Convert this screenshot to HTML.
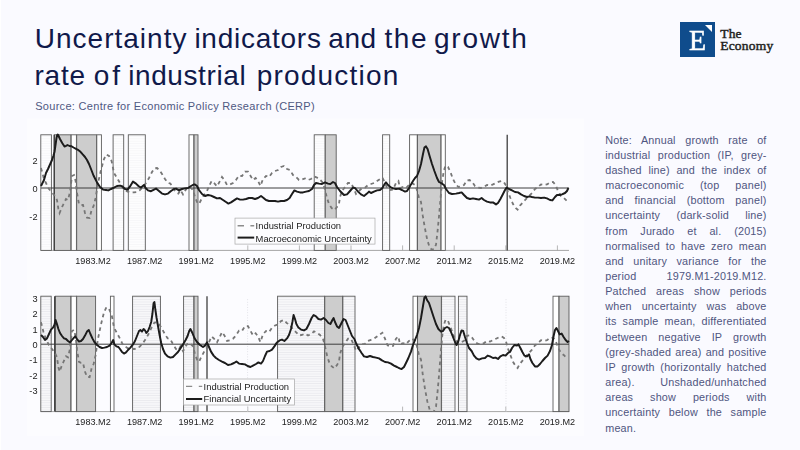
<!DOCTYPE html>
<html><head><meta charset="utf-8"><title>Uncertainty indicators and the growth rate of industrial production</title>
<style>
html,body{margin:0;padding:0;}
body{width:800px;height:450px;overflow:hidden;background:#fafaff;font-family:"Liberation Sans",sans-serif;position:relative;}
.title{position:absolute;left:0;top:0;font-size:28px;line-height:36px;color:#10194a;white-space:nowrap;}
.title .tw{position:absolute;display:block;}
.source{position:absolute;left:35.2px;top:100px;font-size:11px;line-height:13px;color:#4f5882;white-space:nowrap;letter-spacing:0.3px;}
.chart{position:absolute;left:0;top:0;}
.chart text{font-family:"Liberation Sans",sans-serif;fill:#222;}
.chart .lg{font-size:9.4px;}
.chart .yl{font-size:9.2px;text-anchor:end;}
.chart .xl{font-size:9.7px;text-anchor:middle;}
.note{position:absolute;left:605.2px;top:132.6px;width:161.4px;font-size:10.8px;line-height:15.16px;color:#4f5580;letter-spacing:0.2px;}
.note .nl{text-align:justify;text-align-last:justify;white-space:nowrap;height:15.16px;}
.note .nl.last{text-align:left;text-align-last:left;}
.logo{position:absolute;left:680px;top:22px;width:35px;height:35px;background:#0f4c8c;}
.logo .e{position:absolute;left:0;top:0;width:33px;text-align:center;font-family:"Liberation Serif",serif;font-weight:normal;-webkit-text-stroke:0.55px #fff;font-size:28.5px;line-height:38px;color:#fff;transform:scaleX(0.98);transform-origin:16.5px 0;left:0.6px;}
.logo .tri{position:absolute;right:3px;top:3px;width:0;height:0;border-top:7px solid #fff;border-left:7px solid transparent;}
.brand{position:absolute;left:720.2px;top:28.2px;font-family:"Liberation Serif",serif;font-weight:normal;-webkit-text-stroke:0.45px #231f20;font-size:13.5px;line-height:11.5px;color:#231f20;letter-spacing:0.22px;}
</style></head><body>
<div class="title"><span class="tw" style="left:34.7px;top:21.0px;letter-spacing:1.02px">Uncertainty</span><span class="tw" style="left:194.4px;top:21.0px;letter-spacing:0.74px">indicators</span><span class="tw" style="left:328.3px;top:21.0px;letter-spacing:0.59px">and</span><span class="tw" style="left:384.4px;top:21.0px;letter-spacing:1.63px">the</span><span class="tw" style="left:434.0px;top:21.0px;letter-spacing:1.75px">growth</span><span class="tw" style="left:34.5px;top:58.4px;letter-spacing:0.75px">rate</span><span class="tw" style="left:93.7px;top:58.4px;letter-spacing:2.94px">of</span><span class="tw" style="left:128.2px;top:58.4px;letter-spacing:0.60px">industrial</span><span class="tw" style="left:256.8px;top:58.4px;letter-spacing:1.19px">production</span></div>
<div class="source">Source: Centre for Economic Policy Research (CERP)</div>
<svg class="chart" width="800" height="450" viewBox="0 0 800 450">
<defs><pattern id="hatchT" width="4" height="2.4" patternUnits="userSpaceOnUse"><rect width="4" height="2.4" fill="#fdfdfe"/><rect y="1.7" width="4" height="0.7" fill="#f5f5f8"/></pattern><pattern id="hatchB" width="4" height="2.4" patternUnits="userSpaceOnUse"><rect width="4" height="2.4" fill="#f7f7f9"/><rect y="1.7" width="4" height="0.7" fill="#e8e8ec"/></pattern><clipPath id="ct"><rect x="40" y="133" width="531" height="117.5"/></clipPath><clipPath id="cb"><rect x="40" y="294" width="531" height="117.6"/></clipPath><filter id="bl" x="-5%" y="-5%" width="110%" height="110%"><feGaussianBlur stdDeviation="0.45"/></filter></defs>
<rect x="27" y="118.5" width="557" height="317.8" fill="#fcfcff"/>
<g filter="url(#bl)">
<line x1="41.0" x2="569.0" y1="250.4" y2="250.4" stroke="#8e8e8e" stroke-width="0.8"/><line x1="93.0" x2="93.0" y1="245.4" y2="250.4" stroke="#9a9a9a" stroke-width="0.7"/><line x1="144.6" x2="144.6" y1="245.4" y2="250.4" stroke="#9a9a9a" stroke-width="0.7"/><line x1="196.2" x2="196.2" y1="245.4" y2="250.4" stroke="#9a9a9a" stroke-width="0.7"/><line x1="247.8" x2="247.8" y1="245.4" y2="250.4" stroke="#9a9a9a" stroke-width="0.7"/><line x1="299.4" x2="299.4" y1="245.4" y2="250.4" stroke="#9a9a9a" stroke-width="0.7"/><line x1="351.0" x2="351.0" y1="245.4" y2="250.4" stroke="#9a9a9a" stroke-width="0.7"/><line x1="402.6" x2="402.6" y1="245.4" y2="250.4" stroke="#9a9a9a" stroke-width="0.7"/><line x1="454.2" x2="454.2" y1="245.4" y2="250.4" stroke="#9a9a9a" stroke-width="0.7"/><line x1="505.8" x2="505.8" y1="245.4" y2="250.4" stroke="#9a9a9a" stroke-width="0.7"/><line x1="557.4" x2="557.4" y1="245.4" y2="250.4" stroke="#9a9a9a" stroke-width="0.7"/>
<rect x="40.8" y="134.8" width="10.6" height="115.6" fill="url(#hatchT)" stroke="#5c5c5c" stroke-width="0.9"/>
<rect x="54.3" y="134.8" width="16.6" height="115.6" fill="#cdcdcd" stroke="#5c5c5c" stroke-width="0.9"/>
<rect x="71.2" y="134.8" width="5.2" height="115.6" fill="#ffffff" stroke="#5c5c5c" stroke-width="0.9"/>
<rect x="76.7" y="134.8" width="19.8" height="115.6" fill="#cdcdcd" stroke="#5c5c5c" stroke-width="0.9"/>
<rect x="96.8" y="134.8" width="4.6" height="115.6" fill="#ffffff" stroke="#5c5c5c" stroke-width="0.9"/>
<rect x="113.1" y="134.8" width="10.6" height="115.6" fill="url(#hatchT)" stroke="#5c5c5c" stroke-width="0.9"/>
<rect x="128.3" y="134.8" width="17.0" height="115.6" fill="url(#hatchT)" stroke="#5c5c5c" stroke-width="0.9"/>
<rect x="189.0" y="134.8" width="4.8" height="115.6" fill="#ffffff" stroke="#5c5c5c" stroke-width="0.9"/>
<rect x="194.1" y="134.8" width="3.9" height="115.6" fill="#cdcdcd" stroke="#5c5c5c" stroke-width="0.9"/>
<rect x="314.2" y="134.8" width="10.9" height="115.6" fill="url(#hatchT)" stroke="#5c5c5c" stroke-width="0.9"/>
<rect x="325.3" y="134.8" width="10.9" height="115.6" fill="#cdcdcd" stroke="#5c5c5c" stroke-width="0.9"/>
<rect x="382.6" y="134.8" width="7.1" height="115.6" fill="url(#hatchT)" stroke="#5c5c5c" stroke-width="0.9"/>
<rect x="409.6" y="134.8" width="7.6" height="115.6" fill="#ffffff" stroke="#5c5c5c" stroke-width="0.9"/>
<rect x="417.5" y="134.8" width="23.4" height="115.6" fill="#cdcdcd" stroke="#5c5c5c" stroke-width="0.9"/>
<rect x="441.1" y="134.8" width="4.2" height="115.6" fill="#ffffff" stroke="#5c5c5c" stroke-width="0.9"/>

<line x1="41.0" x2="569.0" y1="188.0" y2="188.0" stroke="#3c3c3c" stroke-width="1"/>
<line x1="54.2" x2="54.2" y1="134.8" y2="250.4" stroke="#383838" stroke-width="1.25"/>
<line x1="507.2" x2="507.2" y1="134.8" y2="250.4" stroke="#383838" stroke-width="1.25"/>
<path d="M41.0 168.0 L42.4 173.0 L44.0 179.0 L46.0 183.0 L49.0 189.0 L52.0 192.4 L55.0 196.0 L57.0 200.0 L58.4 209.0 L59.6 213.0 L62.0 207.0 L64.0 203.0 L66.0 199.0 L68.0 200.0 L70.0 192.0 L72.0 176.0 L74.0 175.0 L75.6 181.0 L77.0 193.0 L79.0 204.0 L81.0 205.0 L83.0 205.0 L85.0 213.0 L87.0 217.6 L89.6 218.0 L91.6 210.0 L93.6 206.0 L95.6 198.0 L98.0 183.0 L101.0 170.0 L104.0 159.0 L106.4 154.4 L109.0 156.0 L111.6 161.0 L114.0 173.0 L117.0 178.0 L120.0 183.0 L122.4 187.6 L125.0 190.0 L127.6 191.6 L131.0 192.4 L134.0 192.4 L137.0 192.0 L140.0 190.0 L143.0 187.0 L146.0 183.0 L149.0 178.0 L152.0 172.0 L154.4 168.4 L157.0 168.0 L159.6 170.4 L162.0 174.0 L165.0 179.0 L167.6 182.6 L170.4 183.6 L173.0 188.0 L176.0 192.4 L178.4 193.6 L180.4 190.0 L183.0 194.4 L185.0 191.0 L187.0 188.0 L190.0 187.0 L193.0 190.0 L195.0 197.0 L197.0 202.0 L199.0 204.0 L201.0 200.0 L204.0 195.0 L207.0 191.0 L209.6 185.0 L211.6 181.0 L214.0 183.0 L217.0 186.4 L220.0 181.0 L222.0 177.0 L224.4 180.0 L227.0 185.0 L230.0 184.4 L233.0 183.0 L236.0 180.0 L239.0 175.6 L242.0 176.0 L245.0 171.6 L248.0 171.6 L250.0 175.0 L253.0 180.0 L255.6 178.0 L258.0 181.0 L260.4 186.0 L263.0 179.0 L266.0 176.0 L269.0 177.0 L272.0 173.0 L275.0 171.0 L278.0 170.0 L281.0 167.0 L284.0 166.0 L287.0 169.0 L290.0 170.0 L293.0 175.0 L296.0 177.0 L299.0 180.0 L302.0 179.6 L305.0 178.4 L308.0 180.0 L311.0 179.0 L314.0 176.4 L317.0 177.6 L320.0 179.6 L323.0 183.0 L325.0 190.0 L327.0 198.0 L329.0 204.0 L331.6 208.0 L334.4 210.0 L337.0 207.0 L339.0 203.6 L340.0 197.0 L342.0 191.0 L345.0 187.0 L348.0 183.0 L351.0 183.0 L354.0 189.0 L356.0 194.0 L359.0 191.0 L362.0 188.0 L365.0 187.6 L368.0 185.0 L371.0 184.0 L374.0 183.0 L377.0 181.0 L380.0 179.0 L382.4 177.6 L385.0 183.0 L387.6 189.0 L390.0 190.0 L393.0 189.6 L396.0 183.0 L398.4 181.0 L400.0 188.0 L403.0 187.0 L406.0 188.0 L409.0 185.0 L412.0 183.0 L415.0 185.0 L417.0 190.0 L419.0 198.0 L421.0 202.0 L422.7 215.2 L424.8 227.6 L427.3 240.0 L429.8 247.9 L432.0 249.6 L433.8 249.2 L436.0 244.8 L437.6 230.8 L439.1 215.2 L440.7 196.5 L442.3 180.0 L444.0 170.0 L445.6 165.6 L448.0 167.0 L450.4 172.0 L453.0 179.0 L455.6 184.0 L458.4 187.0 L461.0 186.4 L464.0 185.0 L467.0 180.4 L469.6 180.0 L472.4 182.4 L475.0 186.0 L478.0 187.6 L481.0 188.0 L484.0 187.0 L487.0 185.0 L490.0 185.6 L493.0 184.4 L496.0 183.0 L499.0 181.6 L501.6 181.0 L504.0 182.4 L506.0 185.6 L508.0 192.0 L510.4 198.0 L513.0 204.0 L515.6 208.0 L517.6 209.6 L520.0 205.6 L523.0 202.4 L526.0 199.0 L529.0 196.0 L532.0 193.0 L535.0 189.0 L538.0 187.0 L541.0 184.4 L544.0 185.0 L547.0 184.4 L550.0 182.4 L553.0 182.0 L555.6 185.0 L558.0 191.0 L561.0 196.0 L564.0 198.0 L567.0 201.0" fill="none" stroke="#767676" stroke-width="1.8" stroke-dasharray="3.6 3.4" clip-path="url(#ct)"/>
<path d="M41.0 186.0 L42.5 183.0 L44.0 180.0 L46.0 173.0 L48.0 169.0 L50.0 164.5 L52.0 160.0 L53.5 155.5 L54.5 152.0 L55.5 145.0 L56.5 138.0 L57.2 135.0 L57.8 134.5 L58.6 136.0 L60.0 139.0 L62.2 143.0 L64.5 146.5 L66.0 145.8 L67.5 145.0 L69.5 146.0 L71.5 146.2 L73.5 147.5 L76.0 148.8 L78.5 150.2 L80.5 151.8 L82.5 154.2 L85.0 157.0 L87.0 160.0 L89.0 164.0 L91.0 169.0 L93.5 175.5 L97.0 182.4 L100.0 187.0 L103.0 189.6 L106.0 190.0 L108.4 190.4 L111.0 189.0 L114.0 187.6 L117.0 186.0 L120.0 185.6 L122.4 186.4 L125.0 189.0 L127.6 189.6 L130.0 186.4 L133.0 181.6 L136.0 183.6 L138.4 186.0 L141.0 187.6 L144.0 185.0 L145.6 188.0 L148.0 190.4 L151.0 191.2 L154.0 189.6 L156.0 188.6 L159.0 191.0 L162.0 193.6 L165.0 194.4 L168.0 193.6 L171.0 191.0 L174.0 189.0 L176.0 188.6 L179.0 190.4 L182.0 189.0 L185.0 188.4 L188.0 188.0 L191.0 186.0 L194.0 184.4 L195.0 184.4 L197.0 186.0 L199.0 190.0 L202.0 194.0 L205.0 196.0 L208.0 195.0 L211.0 195.6 L214.0 197.0 L217.0 198.4 L220.0 198.0 L223.0 200.0 L226.0 202.0 L228.4 203.6 L231.0 202.4 L234.0 200.4 L237.0 198.4 L240.0 199.6 L243.0 199.6 L246.0 199.0 L249.0 198.0 L252.0 198.0 L255.0 199.0 L258.0 198.0 L261.0 196.0 L263.6 198.0 L266.0 200.0 L269.0 201.0 L272.0 201.0 L275.0 201.0 L278.0 201.6 L281.0 201.0 L284.0 201.0 L287.0 200.0 L289.6 198.0 L292.0 194.0 L294.4 190.4 L297.0 191.6 L300.0 192.4 L303.0 192.4 L306.0 191.6 L309.0 191.0 L312.0 189.0 L314.0 185.0 L316.0 183.0 L319.0 183.6 L322.0 184.0 L325.0 182.4 L328.0 183.6 L330.4 184.0 L333.0 182.0 L335.0 183.0 L337.0 187.0 L340.0 191.0 L343.0 194.0 L344.0 195.0 L347.0 194.4 L350.0 191.0 L353.0 187.6 L355.0 188.0 L358.0 191.6 L361.0 194.4 L364.0 196.0 L367.0 193.6 L369.0 191.6 L371.0 193.0 L374.0 191.6 L377.0 190.4 L380.0 190.0 L382.4 188.0 L384.4 184.4 L386.0 182.4 L388.0 185.0 L390.4 187.0 L393.0 188.4 L396.0 189.0 L399.0 188.6 L402.0 190.0 L405.0 191.6 L407.0 191.0 L409.0 188.0 L411.0 184.4 L413.0 181.0 L415.0 178.0 L417.0 176.0 L419.0 171.0 L421.0 164.0 L423.0 154.0 L424.4 147.6 L426.0 146.4 L427.6 149.0 L429.6 156.0 L432.0 164.0 L434.4 171.0 L437.0 178.0 L439.0 182.0 L441.0 183.0 L443.0 184.4 L444.0 185.0 L446.0 189.0 L449.0 193.0 L452.0 194.0 L456.0 193.6 L459.0 193.0 L461.6 192.4 L464.0 195.0 L467.0 198.0 L470.0 199.0 L473.0 198.4 L476.0 199.0 L479.0 199.6 L481.6 198.0 L484.0 200.0 L487.0 201.6 L490.0 202.4 L493.0 202.4 L496.0 204.4 L498.0 203.0 L500.4 199.0 L503.0 194.0 L505.0 190.0 L506.6 187.6 L509.0 189.0 L512.0 190.4 L515.0 192.0 L518.0 192.4 L521.0 194.4 L524.0 196.0 L527.0 197.0 L529.6 196.4 L532.0 197.0 L535.0 197.6 L538.0 197.6 L541.0 198.0 L544.0 197.6 L547.0 198.4 L550.0 200.0 L552.4 200.4 L555.0 197.0 L557.0 195.0 L559.6 195.0 L562.0 194.4 L565.0 193.0 L567.0 191.0 L568.4 188.0" fill="none" stroke="#1a1a1a" stroke-width="1.95" stroke-linejoin="round"/>
<rect x="235" y="218.1" width="140" height="26" fill="#fcfcfe" stroke="#a8a8a8" stroke-width="0.7"/>
<line x1="237.6" x2="254.2" y1="225.7" y2="225.7" stroke="#8c8c8c" stroke-width="1.4" stroke-dasharray="6.4 6.4"/>
<line x1="237.6" x2="254.2" y1="237.6" y2="237.6" stroke="#1a1a1a" stroke-width="2"/>
<text x="255.6" y="229" class="lg">Industrial Production</text>
<text x="255.6" y="241.5" class="lg">Macroeconomic Uncertainty</text>
<text x="37.5" y="163.9" class="yl">2</text>
<text x="37.5" y="191.9" class="yl">0</text>
<text x="37.5" y="219.9" class="yl">-2</text>
<text x="93.0" y="263.9" class="xl" textLength="35.4" lengthAdjust="spacingAndGlyphs">1983.M2</text>
<text x="144.6" y="263.9" class="xl" textLength="35.4" lengthAdjust="spacingAndGlyphs">1987.M2</text>
<text x="196.2" y="263.9" class="xl" textLength="35.4" lengthAdjust="spacingAndGlyphs">1991.M2</text>
<text x="247.8" y="263.9" class="xl" textLength="35.4" lengthAdjust="spacingAndGlyphs">1995.M2</text>
<text x="299.4" y="263.9" class="xl" textLength="35.4" lengthAdjust="spacingAndGlyphs">1999.M2</text>
<text x="351.0" y="263.9" class="xl" textLength="35.4" lengthAdjust="spacingAndGlyphs">2003.M2</text>
<text x="402.6" y="263.9" class="xl" textLength="35.4" lengthAdjust="spacingAndGlyphs">2007.M2</text>
<text x="454.2" y="263.9" class="xl" textLength="35.4" lengthAdjust="spacingAndGlyphs">2011.M2</text>
<text x="505.8" y="263.9" class="xl" textLength="35.4" lengthAdjust="spacingAndGlyphs">2015.M2</text>
<text x="557.4" y="263.9" class="xl" textLength="35.4" lengthAdjust="spacingAndGlyphs">2019.M2</text>
<line x1="41.0" x2="569.0" y1="411.6" y2="411.6" stroke="#8e8e8e" stroke-width="0.8"/><line x1="93.0" x2="93.0" y1="406.6" y2="411.6" stroke="#9a9a9a" stroke-width="0.7"/><line x1="144.6" x2="144.6" y1="406.6" y2="411.6" stroke="#9a9a9a" stroke-width="0.7"/><line x1="196.2" x2="196.2" y1="406.6" y2="411.6" stroke="#9a9a9a" stroke-width="0.7"/><line x1="247.8" x2="247.8" y1="406.6" y2="411.6" stroke="#9a9a9a" stroke-width="0.7"/><line x1="299.4" x2="299.4" y1="406.6" y2="411.6" stroke="#9a9a9a" stroke-width="0.7"/><line x1="351.0" x2="351.0" y1="406.6" y2="411.6" stroke="#9a9a9a" stroke-width="0.7"/><line x1="402.6" x2="402.6" y1="406.6" y2="411.6" stroke="#9a9a9a" stroke-width="0.7"/><line x1="454.2" x2="454.2" y1="406.6" y2="411.6" stroke="#9a9a9a" stroke-width="0.7"/><line x1="505.8" x2="505.8" y1="406.6" y2="411.6" stroke="#9a9a9a" stroke-width="0.7"/><line x1="557.4" x2="557.4" y1="406.6" y2="411.6" stroke="#9a9a9a" stroke-width="0.7"/>
<line x1="247.6" x2="247.6" y1="299.2" y2="411.6" stroke="#dcdce2" stroke-width="0.8" stroke-dasharray="1 1.6"/>
<line x1="506.0" x2="506.0" y1="299.2" y2="411.6" stroke="#dcdce2" stroke-width="0.8" stroke-dasharray="1 1.6"/>
<rect x="40.8" y="296.2" width="10.4" height="115.4" fill="url(#hatchB)" stroke="#5c5c5c" stroke-width="0.9"/>
<rect x="55.4" y="296.2" width="15.4" height="115.4" fill="#cdcdcd" stroke="#5c5c5c" stroke-width="0.9"/>
<rect x="71.1" y="296.2" width="5.3" height="115.4" fill="#ffffff" stroke="#5c5c5c" stroke-width="0.9"/>
<rect x="76.7" y="296.2" width="18.9" height="115.4" fill="#cdcdcd" stroke="#5c5c5c" stroke-width="0.9"/>
<rect x="110.4" y="296.2" width="3.6" height="115.4" fill="#ffffff" stroke="#5c5c5c" stroke-width="0.9"/>
<rect x="132.6" y="296.2" width="27.8" height="115.4" fill="url(#hatchB)" stroke="#5c5c5c" stroke-width="0.9"/>
<rect x="183.6" y="296.2" width="10.2" height="115.4" fill="url(#hatchB)" stroke="#5c5c5c" stroke-width="0.9"/>
<rect x="194.1" y="296.2" width="3.9" height="115.4" fill="#cdcdcd" stroke="#5c5c5c" stroke-width="0.9"/>
<rect x="277.6" y="296.2" width="46.9" height="115.4" fill="url(#hatchB)" stroke="#5c5c5c" stroke-width="0.9"/>
<rect x="324.8" y="296.2" width="17.8" height="115.4" fill="#cdcdcd" stroke="#5c5c5c" stroke-width="0.9"/>
<rect x="342.9" y="296.2" width="12.1" height="115.4" fill="url(#hatchB)" stroke="#5c5c5c" stroke-width="0.9"/>
<rect x="413.0" y="296.2" width="4.4" height="115.4" fill="#ffffff" stroke="#5c5c5c" stroke-width="0.9"/>
<rect x="417.6" y="296.2" width="23.7" height="115.4" fill="#cdcdcd" stroke="#5c5c5c" stroke-width="0.9"/>
<rect x="441.6" y="296.2" width="13.4" height="115.4" fill="url(#hatchB)" stroke="#5c5c5c" stroke-width="0.9"/>
<rect x="458.4" y="296.2" width="8.6" height="115.4" fill="url(#hatchB)" stroke="#5c5c5c" stroke-width="0.9"/>
<rect x="553.0" y="296.2" width="5.9" height="115.4" fill="#ffffff" stroke="#5c5c5c" stroke-width="0.9"/>
<rect x="559.1" y="296.2" width="9.9" height="115.4" fill="#cdcdcd" stroke="#5c5c5c" stroke-width="0.9"/>

<line x1="41.0" x2="569.0" y1="344.2" y2="344.2" stroke="#3c3c3c" stroke-width="1"/>
<line x1="54.7" x2="54.7" y1="296.2" y2="411.6" stroke="#383838" stroke-width="1.25"/>
<line x1="207.0" x2="207.0" y1="296.2" y2="411.6" stroke="#383838" stroke-width="1.25"/>
<path d="M41.0 322.2 L42.4 327.7 L44.0 334.3 L46.0 338.7 L49.0 345.3 L52.0 349.0 L55.0 353.0 L57.0 357.4 L58.4 367.3 L59.6 371.7 L62.0 365.1 L64.0 360.7 L66.0 356.3 L68.0 357.4 L70.0 348.6 L72.0 331.0 L74.0 329.9 L75.6 336.5 L77.0 349.7 L79.0 361.8 L81.0 362.9 L83.0 362.9 L85.0 371.7 L87.0 376.8 L89.6 377.2 L91.6 368.4 L93.6 364.0 L95.6 355.2 L98.0 338.7 L101.0 324.4 L104.0 312.3 L106.4 307.2 L109.0 309.0 L111.6 314.5 L114.0 327.7 L117.0 333.2 L120.0 338.7 L122.4 343.8 L125.0 346.4 L127.6 348.2 L131.0 349.0 L134.0 349.0 L137.0 348.6 L140.0 346.4 L143.0 343.1 L146.0 338.7 L149.0 333.2 L152.0 326.6 L154.4 322.6 L157.0 322.2 L159.6 324.8 L162.0 328.8 L165.0 334.3 L167.6 338.3 L170.4 339.4 L173.0 344.2 L176.0 349.0 L178.4 350.4 L180.4 346.4 L183.0 351.2 L185.0 347.5 L187.0 344.2 L190.0 343.1 L193.0 346.4 L195.0 354.1 L197.0 359.6 L199.0 361.8 L201.0 357.4 L204.0 351.9 L207.0 347.5 L209.6 340.9 L211.6 336.5 L214.0 338.7 L217.0 342.4 L220.0 336.5 L222.0 332.1 L224.4 335.4 L227.0 340.9 L230.0 340.2 L233.0 338.7 L236.0 335.4 L239.0 330.6 L242.0 331.0 L245.0 326.2 L248.0 326.2 L250.0 329.9 L253.0 335.4 L255.6 333.2 L258.0 336.5 L260.4 342.0 L263.0 334.3 L266.0 331.0 L269.0 332.1 L272.0 327.7 L275.0 325.5 L278.0 324.4 L281.0 321.1 L284.0 320.0 L287.0 323.3 L290.0 324.4 L293.0 329.9 L296.0 332.1 L299.0 335.4 L302.0 335.0 L305.0 333.6 L308.0 335.4 L311.0 334.3 L314.0 331.4 L317.0 332.8 L320.0 335.0 L323.0 338.7 L325.0 346.4 L327.0 355.2 L329.0 361.8 L331.6 366.2 L334.4 368.4 L337.0 365.1 L339.0 361.4 L340.0 354.1 L342.0 347.5 L345.0 343.1 L348.0 338.7 L351.0 338.7 L354.0 345.3 L356.0 350.8 L359.0 347.5 L362.0 344.2 L365.0 343.8 L368.0 340.9 L371.0 339.8 L374.0 338.7 L377.0 336.5 L380.0 334.3 L382.4 332.8 L385.0 338.7 L387.6 345.3 L390.0 346.4 L393.0 346.0 L396.0 338.7 L398.4 336.5 L400.0 344.2 L403.0 343.1 L406.0 344.2 L409.0 340.9 L412.0 338.7 L415.0 340.9 L417.0 346.4 L419.0 355.2 L421.0 359.6 L422.7 374.1 L424.8 387.8 L427.3 401.4 L429.8 410.1 L432.0 412.0 L433.8 411.5 L436.0 406.7 L437.6 391.3 L439.1 374.1 L440.7 353.6 L442.3 335.4 L444.0 324.4 L445.6 319.6 L448.0 321.1 L450.4 326.6 L453.0 334.3 L455.6 339.8 L458.4 343.1 L461.0 342.4 L464.0 340.9 L467.0 335.8 L469.6 335.4 L472.4 338.0 L475.0 342.0 L478.0 343.8 L481.0 344.2 L484.0 343.1 L487.0 340.9 L490.0 341.6 L493.0 340.2 L496.0 338.7 L499.0 337.2 L501.6 336.5 L504.0 338.0 L506.0 341.6 L508.0 348.6 L510.4 355.2 L513.0 361.8 L515.6 366.2 L517.6 368.0 L520.0 363.6 L523.0 360.0 L526.0 356.3 L529.0 353.0 L532.0 349.7 L535.0 345.3 L538.0 343.1 L541.0 340.2 L544.0 340.9 L547.0 340.2 L550.0 338.0 L553.0 337.6 L555.6 340.9 L558.0 347.5 L561.0 353.0 L564.0 355.2 L567.0 358.5" fill="none" stroke="#767676" stroke-width="1.8" stroke-dasharray="3.6 3.4" clip-path="url(#cb)"/>
<path d="M41.0 335.0 L43.0 337.0 L45.0 340.0 L47.0 338.4 L49.0 334.0 L51.0 329.6 L53.0 327.6 L54.4 325.0 L55.6 320.0 L56.8 323.6 L58.4 329.0 L60.0 333.0 L62.0 336.0 L64.0 338.4 L66.0 339.0 L68.0 341.0 L70.0 342.4 L72.0 340.0 L74.0 337.6 L75.2 336.4 L77.0 339.0 L79.0 341.6 L81.0 341.0 L83.0 339.0 L85.0 335.6 L87.0 331.6 L88.8 330.0 L90.4 334.0 L92.4 338.4 L94.4 342.0 L97.0 345.0 L99.6 347.0 L102.0 348.0 L104.4 347.6 L107.0 347.0 L109.6 345.6 L111.6 343.0 L113.2 340.0 L114.4 344.4 L116.4 346.4 L118.4 347.0 L120.0 349.0 L122.0 352.0 L124.0 353.6 L126.0 352.4 L128.0 350.0 L130.4 347.6 L133.0 344.4 L135.0 341.0 L137.0 336.0 L139.0 331.0 L140.4 330.0 L142.0 331.6 L143.6 329.0 L145.0 330.4 L146.4 333.0 L148.0 331.0 L149.6 327.0 L151.2 322.0 L152.4 314.0 L153.6 303.0 L154.4 302.0 L155.4 310.0 L156.6 318.0 L158.0 326.0 L159.6 335.0 L161.2 343.0 L163.0 349.0 L165.0 353.6 L167.6 356.4 L170.4 357.6 L173.0 357.0 L175.6 354.4 L178.0 352.0 L180.4 348.4 L183.0 344.4 L185.6 340.0 L187.6 336.0 L189.2 331.0 L190.4 329.0 L192.4 333.0 L194.4 338.0 L197.0 342.0 L200.0 345.0 L203.0 347.0 L205.0 345.6 L207.0 342.4 L209.0 347.0 L211.0 351.6 L213.6 355.6 L216.0 358.0 L219.0 360.0 L222.0 361.6 L225.0 363.0 L228.0 365.0 L231.0 364.4 L234.0 363.0 L236.4 361.6 L239.0 363.6 L242.0 364.0 L245.0 364.4 L247.6 366.0 L250.4 367.0 L253.0 365.6 L256.0 364.0 L258.4 362.4 L261.0 363.6 L263.0 361.0 L265.0 356.0 L267.0 351.6 L269.6 351.0 L272.0 349.6 L274.4 346.4 L277.0 342.4 L279.6 340.4 L282.0 339.6 L284.4 341.0 L287.0 338.4 L289.0 335.0 L291.0 329.0 L292.4 322.0 L293.6 315.0 L295.0 319.0 L296.4 324.0 L298.4 327.6 L301.0 329.6 L304.0 330.4 L306.4 329.0 L309.0 324.0 L311.6 318.0 L313.6 315.0 L316.0 316.4 L318.4 319.0 L321.0 319.6 L323.6 318.0 L326.0 320.0 L328.4 323.0 L330.4 324.0 L332.4 320.0 L333.6 318.0 L335.0 322.0 L337.0 326.4 L339.0 328.0 L341.0 324.0 L343.6 319.0 L345.6 320.0 L347.6 325.0 L349.6 330.0 L352.0 336.0 L354.4 339.0 L356.4 344.0 L359.0 349.0 L361.6 353.0 L364.0 356.4 L367.0 357.0 L370.0 356.0 L373.0 357.0 L376.0 357.6 L379.0 358.4 L382.0 360.4 L385.0 362.0 L388.0 362.4 L391.0 363.6 L394.0 365.6 L397.0 367.0 L399.6 368.4 L401.6 369.0 L404.0 367.0 L406.0 363.0 L408.4 358.0 L411.0 351.6 L413.0 345.0 L415.0 340.0 L417.0 335.0 L419.0 328.0 L421.0 318.0 L423.0 306.0 L424.4 297.6 L425.6 296.4 L427.0 300.0 L429.0 303.0 L431.0 309.0 L433.6 317.0 L436.0 324.0 L438.4 329.0 L441.0 331.6 L443.0 331.0 L445.0 328.0 L447.0 327.0 L449.0 328.0 L451.0 332.0 L453.0 337.0 L455.0 342.0 L456.6 345.0 L458.4 341.0 L460.0 335.0 L461.6 330.4 L463.2 331.0 L465.0 337.0 L467.0 343.0 L469.0 348.0 L471.6 351.0 L474.0 355.6 L476.4 358.4 L479.0 359.6 L482.0 358.4 L485.0 358.0 L487.6 355.6 L490.0 356.4 L493.0 358.0 L495.6 357.6 L498.0 359.0 L500.4 356.4 L503.0 355.0 L505.6 355.6 L508.0 353.0 L510.0 352.0 L512.0 348.0 L514.4 345.0 L517.0 345.6 L518.4 344.4 L520.4 348.0 L522.4 352.0 L524.4 355.6 L527.0 356.4 L529.0 354.4 L530.4 359.0 L532.4 363.0 L535.0 366.4 L537.6 366.4 L540.0 364.0 L542.4 361.0 L545.0 358.0 L547.6 355.6 L550.0 351.0 L552.0 345.0 L553.6 336.0 L555.0 330.0 L556.4 328.0 L558.0 331.0 L559.6 334.4 L561.6 333.6 L563.6 337.0 L565.6 340.0 L567.6 342.0 L569.0 341.0" fill="none" stroke="#1a1a1a" stroke-width="1.95" stroke-linejoin="round"/>
<rect x="183.6" y="379" width="110.8" height="26" fill="#fcfcfe" stroke="#a8a8a8" stroke-width="0.7"/>
<line x1="186" x2="202.2" y1="386.4" y2="386.4" stroke="#8c8c8c" stroke-width="1.4" stroke-dasharray="6.2 6.6"/>
<line x1="186" x2="202.2" y1="399" y2="399" stroke="#1a1a1a" stroke-width="2"/>
<text x="203.6" y="390" class="lg">Industrial Production</text>
<text x="203.6" y="402.4" class="lg">Financial Uncertainty</text>
<text x="37.5" y="301.7" class="yl">3</text>
<text x="37.5" y="317.1" class="yl">2</text>
<text x="37.5" y="332.5" class="yl">1</text>
<text x="37.5" y="347.9" class="yl">0</text>
<text x="37.5" y="363.3" class="yl">-1</text>
<text x="37.5" y="378.7" class="yl">-2</text>
<text x="37.5" y="394.1" class="yl">-3</text>
<text x="93.0" y="425.2" class="xl" textLength="35.4" lengthAdjust="spacingAndGlyphs">1983.M2</text>
<text x="144.6" y="425.2" class="xl" textLength="35.4" lengthAdjust="spacingAndGlyphs">1987.M2</text>
<text x="196.2" y="425.2" class="xl" textLength="35.4" lengthAdjust="spacingAndGlyphs">1991.M2</text>
<text x="247.8" y="425.2" class="xl" textLength="35.4" lengthAdjust="spacingAndGlyphs">1995.M2</text>
<text x="299.4" y="425.2" class="xl" textLength="35.4" lengthAdjust="spacingAndGlyphs">1999.M2</text>
<text x="351.0" y="425.2" class="xl" textLength="35.4" lengthAdjust="spacingAndGlyphs">2003.M2</text>
<text x="402.6" y="425.2" class="xl" textLength="35.4" lengthAdjust="spacingAndGlyphs">2007.M2</text>
<text x="454.2" y="425.2" class="xl" textLength="35.4" lengthAdjust="spacingAndGlyphs">2011.M2</text>
<text x="505.8" y="425.2" class="xl" textLength="35.4" lengthAdjust="spacingAndGlyphs">2015.M2</text>
<text x="557.4" y="425.2" class="xl" textLength="35.4" lengthAdjust="spacingAndGlyphs">2019.M2</text>
</g></svg>
<div class="note"><div class="nl">Note: Annual growth rate of</div><div class="nl">industrial production (IP, grey-</div><div class="nl">dashed line) and the index of</div><div class="nl">macroeconomic (top panel)</div><div class="nl">and financial (bottom panel)</div><div class="nl">uncertainty (dark-solid line)</div><div class="nl">from Jurado et al. (2015)</div><div class="nl">normalised to have zero mean</div><div class="nl">and unitary variance for the</div><div class="nl">period 1979.M1-2019.M12.</div><div class="nl">Patched areas show periods</div><div class="nl">when uncertainty was above</div><div class="nl">its sample mean, differentiated</div><div class="nl">between negative IP growth</div><div class="nl">(grey-shaded area) and positive</div><div class="nl">IP growth (horizontally hatched</div><div class="nl">area). Unshaded/unhatched</div><div class="nl">areas show periods with</div><div class="nl">uncertainty below the sample</div><div class="nl last">mean.</div></div>
<div style="position:absolute;left:0;top:0;width:1px;height:450px;background:#fff"></div>
<div class="logo"><div class="e">E</div><div class="tri"></div></div>
<div class="brand">The<br>Economy</div>
</body></html>
